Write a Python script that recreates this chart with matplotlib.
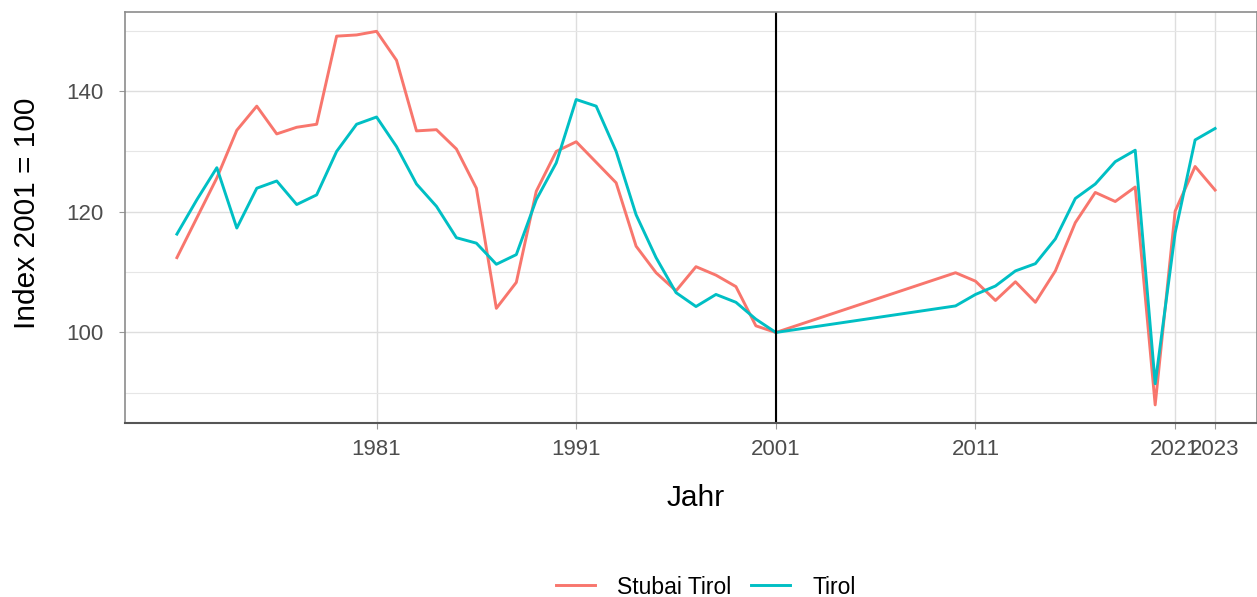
import numpy as np
import matplotlib
matplotlib.use("Agg")
from matplotlib import pyplot as plt

plt.rcParams['font.family'] = ['Liberation Sans', 'DejaVu Sans']

# 年（1971-2001 と 2010-2023）
years = list(range(1971, 2002)) + list(range(2010, 2024))

# Stubai Tirol の指数
stubai = [112.4, 119.0, 125.6, 133.5, 137.5, 132.9, 134.0, 134.5, 149.1, 149.3,
          149.9, 145.1, 133.4, 133.6, 130.4, 123.9, 104.0, 108.3, 123.4, 130.0,
          131.6, 128.2, 124.8, 114.3, 109.9, 106.9, 110.9, 109.5, 107.6, 101.1,
          100.0,
          109.9, 108.5, 105.3, 108.4, 105.0, 110.2, 118.2, 123.2, 121.7, 124.1,
          88.0, 120.1, 127.5, 123.6]

# Tirol の指数
tirol = [116.3, 122.0, 127.3, 117.3, 123.9, 125.1, 121.2, 122.8, 130.0, 134.5,
         135.7, 130.8, 124.6, 120.9, 115.7, 114.8, 111.3, 112.9, 122.0, 128.1,
         138.6, 137.5, 130.0, 119.5, 112.4, 106.6, 104.3, 106.3, 105.0, 102.2,
         100.0,
         104.4, 106.3, 107.7, 110.2, 111.4, 115.5, 122.2, 124.6, 128.3, 130.2,
         91.5, 116.5, 131.9, 133.8]

x_ticks = [1981, 1991, 2001, 2011, 2021, 2023]
y_major = [100, 120, 140]
y_minor = [90, 110, 130, 150]

W, H = 1257, 597
fig = plt.figure(figsize=(W / 100, H / 100), dpi=100)
ax = fig.add_axes([125 / W, 1 - 423 / H, (W - 125) / W, (423 - 12) / H])

# 枠線とグリッド
for s in ax.spines.values():
    s.set_color('#8c8c8c')
    s.set_linewidth(1.2)
ax.spines['bottom'].set_color('#555555')
ax.spines['bottom'].set_linewidth(1.5)
ax.set_axisbelow(True)
ax.set_xticks(x_ticks)
ax.set_xticklabels([str(t) for t in x_ticks])
ax.set_yticks(y_major)
ax.set_yticks(y_minor, minor=True)
ax.grid(True, which='major', color='#dedede', linewidth=1.0)
ax.grid(True, which='minor', axis='y', color='#e6e6e6', linewidth=0.8)
ax.tick_params(which='major', length=4.5, color='#999999', labelsize=16,
               labelcolor='#4d4d4d')
ax.tick_params(axis='x', pad=7)
ax.tick_params(axis='y', pad=11)
ax.tick_params(which='minor', length=0)

ax.plot(years, stubai, color='#F8766D', linewidth=2.1, label='Stubai Tirol')
ax.plot(years, tirol, color='#00BFC4', linewidth=2.1, label='Tirol')
ax.axvline(2001, color='black', linewidth=1.5)

ax.set_xlim(1968.4, 2025.1)
ax.set_ylim(85.0, 153.1)

# 軸ラベル
fig.text(696 / W, 1 - 498 / H, 'Jahr', fontsize=21.5,
         ha='center', va='center')
fig.text(27 / W, 1 - 213 / H, 'Index 2001 = 100', fontsize=21.5,
         rotation=90, ha='center', va='center')

# 凡例（下部中央）
fig.legend(loc='center', bbox_to_anchor=(706 / W, 1 - 587 / H),
           ncol=2, frameon=False, fontsize=16.5, handlelength=1.7,
           columnspacing=0.87, handletextpad=0.96)

fig.savefig('out.png', dpi=100)
